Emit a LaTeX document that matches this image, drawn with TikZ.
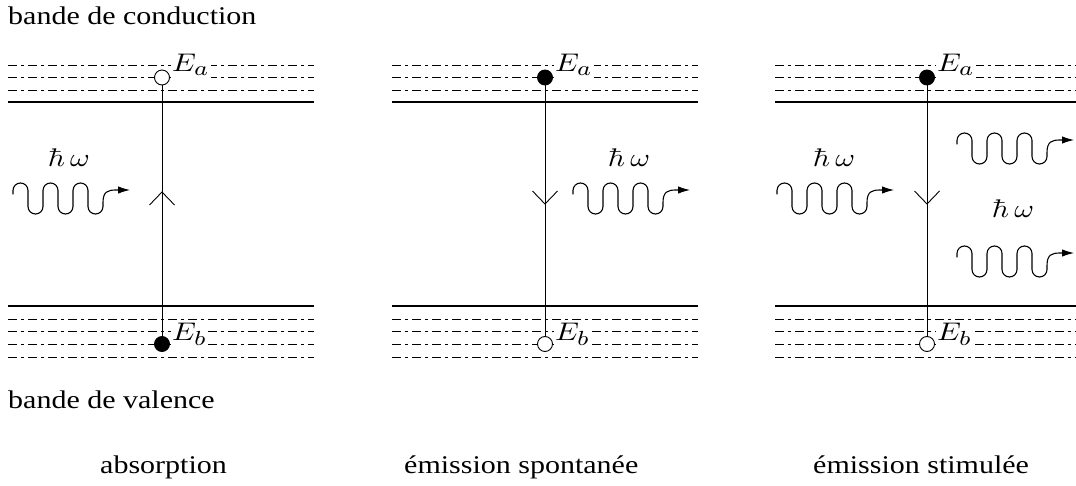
\documentclass[tikz,border=0pt]{standalone}
\usepackage[no-math]{fontspec}
\setmainfont{Liberation Serif}
\DeclareMathSizes{10}{10}{8}{6}
\usetikzlibrary{arrows.meta,calc}
\newcommand{\hstretch}[1]{\scalebox{3}[2.55]{#1}}
\tikzset{
  band/.style={line width=2.8pt},
  level/.style={line width=0.8pt, dash pattern=on 9pt off 4pt on 3pt off 4pt},
  trans/.style={line width=0.9pt},
  openstate/.style={circle, draw, line width=0.9pt, fill=white, minimum size=15pt, inner sep=0pt},
  fullstate/.style={circle, draw, line width=0.9pt, fill=black, minimum size=15pt, inner sep=0pt},
  elabel/.style={anchor=base west, fill=white, inner xsep=1.5pt, inner ysep=2.5pt},
  hwlabel/.style={anchor=base},
  txt/.style={anchor=base west, inner sep=0pt},
  photon/.pic={
    \draw[line width=1.1pt, -{Latex[length=12pt,width=7.5pt]}]
      (0,4) -- (0,0) arc[start angle=180,end angle=360,radius=7.5]
      -- (15,16) arc[start angle=180,end angle=0,radius=7.5]
      -- (30,0) arc[start angle=180,end angle=360,radius=7.5]
      -- (45,16) arc[start angle=180,end angle=0,radius=7.5]
      -- (60,0) arc[start angle=180,end angle=360,radius=7.5]
      -- (75,16) arc[start angle=180,end angle=0,radius=7.5]
      -- (90,12) .. controls (90,1) and (95,-0.5) .. (103,-0.5) -- (117,-0.5);
  }
}
\begin{document}
\begin{tikzpicture}[x=1pt,y=-1pt,font=\fontsize{10}{12}\selectfont]
\useasboundingbox (0,0) rectangle (1076,486);
% energy bands
\foreach \xa/\xb in {8/314, 392/698, 775/1076}{
  \foreach \yy in {65,77.5,90,319,331.5,344,357.5}{
    \draw[level] (\xa,\yy) -- (\xb,\yy);
  }
  \draw[band] (\xa,102) -- (\xb,102);
  \draw[band] (\xa,306) -- (\xb,306);
}
% ---------- absorption
\node[openstate] (a1) at (162,77.5) {};
\node[fullstate] (b1) at (162,344) {};
\draw[trans] (a1) -- (b1);
\coordinate (m1) at (162,192);
\draw[trans] ($(m1)+(-12.5,13)$) -- (m1) -- ($(m1)+(12.5,13)$);
\node[elabel] (ea1) at (170.5,72) {\hstretch{$E_a$}};
\node[elabel] (eb1) at (170.5,340) {\hstretch{$E_b$}};
\pic at (13,190.5) {photon};
\node[hwlabel] (hw1) at (69,167) {\hstretch{$\hbar\,\omega$}};
% ---------- emission spontanee
\node[fullstate] (a2) at (545,77.5) {};
\node[openstate] (b2) at (545,344) {};
\draw[trans] (a2) -- (b2);
\coordinate (m2) at (545,204);
\draw[trans] ($(m2)+(-12.5,-13)$) -- (m2) -- ($(m2)+(12.5,-13)$);
\node[elabel] (ea2) at (553.5,72) {\hstretch{$E_a$}};
\node[elabel] (eb2) at (553.5,340) {\hstretch{$E_b$}};
\pic at (573,190.5) {photon};
\node[hwlabel] (hw2) at (629,167) {\hstretch{$\hbar\,\omega$}};
% ---------- emission stimulee
\node[fullstate] (a3) at (927,77.5) {};
\node[openstate] (b3) at (927,344) {};
\draw[trans] (a3) -- (b3);
\coordinate (m3) at (927,204);
\draw[trans] ($(m3)+(-12.5,-13)$) -- (m3) -- ($(m3)+(12.5,-13)$);
\node[elabel] (ea3) at (935.5,72) {\hstretch{$E_a$}};
\node[elabel] (eb3) at (935.5,340) {\hstretch{$E_b$}};
\pic at (777,190.5) {photon};
\node[hwlabel] (hw3) at (834,167) {\hstretch{$\hbar\,\omega$}};
\pic at (957,140.5) {photon};
\pic at (957,253.5) {photon};
\node[hwlabel] (hw4) at (1013,218) {\hstretch{$\hbar\,\omega$}};
% ---------- texts
\node[txt] (tc) at (8,25) {\hstretch{bande de conduction}};
\node[txt] (tv) at (8,408) {\hstretch{bande de valence}};
\node[txt] (t1) at (100,473) {\hstretch{absorption}};
\node[txt] (t2) at (404,473) {\hstretch{émission spontanée}};
\node[txt] (t3) at (813,473) {\hstretch{émission stimulée}};
\end{tikzpicture}
\end{document}
